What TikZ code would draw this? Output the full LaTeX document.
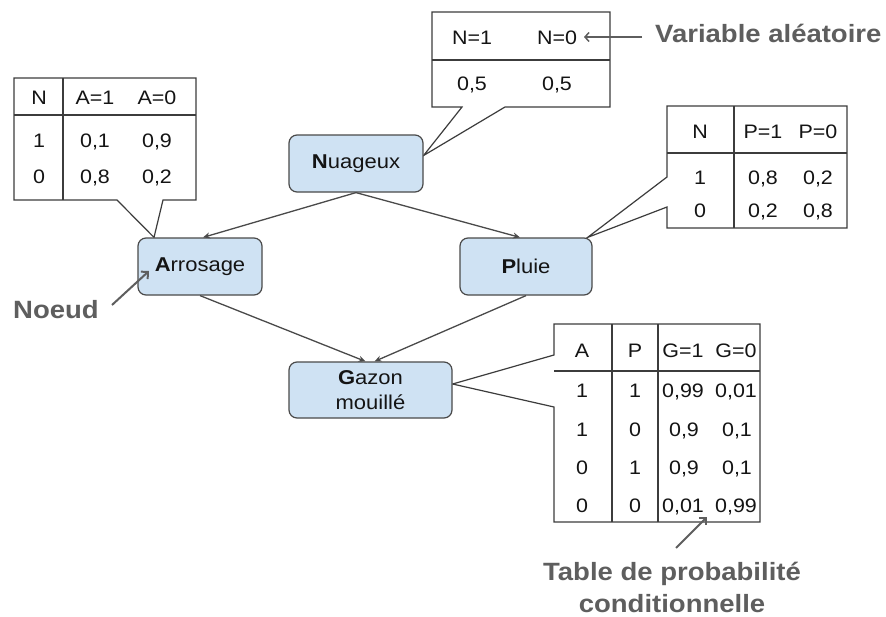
\documentclass[tikz,border=0pt]{standalone}
\usepackage{fontspec}
\setmainfont{Liberation Sans}[FakeStretch=1.1]
\newfontfamily\notefont{Liberation Sans}[FakeStretch=1.1]
\usetikzlibrary{arrows.meta}
\pgfdeclarelayer{bg}
\pgfsetlayers{bg,main}
\definecolor{nodefill}{HTML}{CFE2F3}
\definecolor{nodeline}{HTML}{4A4A4A}
\definecolor{tabline}{HTML}{3C3C3C}
\definecolor{annot}{HTML}{5E5E5E}
\definecolor{txt}{HTML}{141414}
\begin{document}
\begin{tikzpicture}[x=1pt,y=-1pt,
  bnode/.style={draw=nodeline, fill=nodefill, rounded corners=8pt, line width=1.2pt,
    inner sep=0pt, text=txt, font=\fontsize{20}{25}\selectfont, align=center},
  cell/.style={anchor=base, inner sep=0pt, text=txt, font=\fontsize{19.5}{22}\selectfont},
  tab/.style={draw=tabline, line width=1.2pt, fill=white, line join=miter},
  tabdiv/.style={draw=tabline, line width=1.2pt},
  edge/.style={draw=nodeline, line width=1.3pt, -{Stealth[length=7pt,width=6pt]}},
  note/.style={text=annot, font=\notefont\fontsize{25}{30}\selectfont\bfseries, inner sep=0pt},
  notearrow/.style={draw=annot, line width=2pt, -{Straight Barb[length=5pt,width=10pt]}},
  notearrowthin/.style={draw=annot, line width=1.5pt, -{Straight Barb[length=4pt,width=9pt]}}
]
\useasboundingbox (0,0) rectangle (886,616);
\begin{pgfonlayer}{bg}
\fill[white] (0,0) rectangle (886,616);
\end{pgfonlayer}

% ---------- nodes ----------
\node[bnode, minimum width=134pt, minimum height=57pt] (nu) at (356,163.5) {\textbf{N}uageux};
\node[bnode, minimum width=124pt, minimum height=57pt] (ar) at (200,266.5) {\textbf{A}rrosage};
\node[bnode, minimum width=132pt, minimum height=57pt] (pl) at (526,266.5) {\textbf{P}luie};
\node[bnode, minimum width=163pt, minimum height=56pt] (ga) at (370.5,390) {\textbf{G}azon\\mouillé};

% ---------- edges ----------
\draw[edge] (nu.south) -- ([xshift=3pt]ar.north);
\draw[edge] (nu.south) -- ([xshift=-6pt]pl.north);
\draw[edge] (ar.south) -- ([xshift=-5pt]ga.north);
\draw[edge] (pl.south) -- ([xshift=4pt]ga.north);

% ---------- callout tables ----------
\begin{pgfonlayer}{bg}
% Nuageux
\path[tab] (432,12) -- (610,12) -- (610,107) -- (505,107) -- ([yshift=8pt]nu.east) -- (462,107) -- (432,107) -- cycle;
\draw[tabdiv] (432,60) -- (610,60);
% Arrosage
\path[tab] (14,78) -- (196,78) -- (196,200) -- (163,200) -- ([xshift=-46pt]ar.north) -- (117,200) -- (14,200) -- cycle;
\draw[tabdiv] (14,115) -- (196,115);
\draw[tabdiv] (63,78) -- (63,200);
% Pluie
\path[tab] (667,106) -- (847,106) -- (847,228) -- (667,228) -- (667,207) -- ([xshift=-5pt]pl.north east) -- (667,177) -- cycle;
\draw[tabdiv] (667,153) -- (847,153);
\draw[tabdiv] (734,106) -- (734,228);
% Gazon
\path[tab] (554,324) -- (760,324) -- (760,522) -- (554,522) -- (554,407) -- ([yshift=6pt]ga.east) -- (554,355) -- cycle;
\draw[tabdiv] (554,371) -- (760,371);
\draw[tabdiv] (612,324) -- (612,522);
\draw[tabdiv] (658,324) -- (658,522);
\end{pgfonlayer}

% Nuageux table cells
\node[cell] (n11) at (472,44) {N=1};
\node[cell] (n12) at (557,44) {N=0};
\node[cell] (n21) at (472,90) {0,5};
\node[cell] (n22) at (557,90) {0,5};

% Arrosage table cells
\node[cell] (a11) at (39,104) {N};
\node[cell] (a12) at (95,104) {A=1};
\node[cell] (a13) at (157,104) {A=0};
\node[cell] (a21) at (39,147) {1};
\node[cell] (a22) at (95,147) {0,1};
\node[cell] (a23) at (157,147) {0,9};
\node[cell] (a31) at (39,183) {0};
\node[cell] (a32) at (95,183) {0,8};
\node[cell] (a33) at (157,183) {0,2};

% Pluie table cells
\node[cell] (p11) at (700,138) {N};
\node[cell] (p12) at (763,138) {P=1};
\node[cell] (p13) at (818,138) {P=0};
\node[cell] (p21) at (700,184) {1};
\node[cell] (p22) at (763,184) {0,8};
\node[cell] (p23) at (818,184) {0,2};
\node[cell] (p31) at (700,217) {0};
\node[cell] (p32) at (763,217) {0,2};
\node[cell] (p33) at (818,217) {0,8};

% Gazon table cells
\node[cell] (g11) at (582,357) {A};
\node[cell] (g12) at (635,357) {P};
\node[cell] (g13) at (683,357) {G=1};
\node[cell] (g14) at (736,357) {G=0};
\node[cell] (g21) at (582,397) {1};
\node[cell] (g22) at (635,397) {1};
\node[cell] (g23) at (683,397) {0,99};
\node[cell] (g24) at (736,397) {0,01};
\node[cell] (g31) at (582,436) {1};
\node[cell] (g32) at (635,436) {0};
\node[cell] (g33) at (684,436) {0,9};
\node[cell] (g34) at (737,436) {0,1};
\node[cell] (g41) at (582,474) {0};
\node[cell] (g42) at (635,474) {1};
\node[cell] (g43) at (684,474) {0,9};
\node[cell] (g44) at (737,474) {0,1};
\node[cell] (g51) at (582,512) {0};
\node[cell] (g52) at (635,512) {0};
\node[cell] (g53) at (683,512) {0,01};
\node[cell] (g54) at (736,512) {0,99};

% ---------- annotations ----------
\node[note, anchor=base west] (var) at (655,42) {Variable aléatoire};
\coordinate (vartail) at (642,37);
\coordinate (vartip) at (584,37);
\draw[notearrowthin] (vartail) -- (vartip);

\node[note, anchor=base west] (noeud) at (13,318) {Noeud};
\coordinate (noeudtail) at (112,305);
\coordinate (noeudtip) at (149,271);
\draw[notearrow] (noeudtail) -- (noeudtip);

\node[note, anchor=base] (tpc1) at (672,580) {Table de probabilité};
\node[note, anchor=base] (tpc2) at (672,612) {conditionnelle};
\coordinate (tbltail) at (676,548);
\coordinate (tbltip) at (707,517);
\draw[notearrow] (tbltail) -- (tbltip);
\end{tikzpicture}
\end{document}
